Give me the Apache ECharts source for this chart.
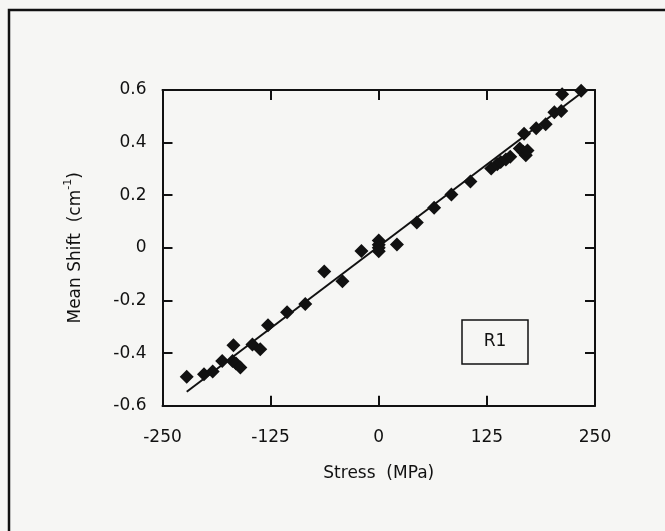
<!DOCTYPE html>
<html>
<head>
<meta charset="utf-8">
<script src="https://cdn.jsdelivr.net/npm/echarts@6/dist/echarts.min.js"></script>
<style>
  html, body { margin: 0; padding: 0; background: #f6f6f4; }
  #chart { width: 665px; height: 531px; }
</style>
</head>
<body>
<div id="chart"></div>
<script>
// Measured points: applied stress (MPa) and mean Raman shift (cm^-1)
const stress = [-222, -202, -192, -181, -168, -169, -165, -160, -146, -137,
  -128, -106, -85, -63, -42, -20, 0, 0, 0, 0,
  21, 44, 64, 84, 106, 130, 137, 141, 147, 152,
  163, 167, 168, 170, 172, 182, 193, 203, 211, 212, 234];
const meanShift = [-0.49, -0.48, -0.47, -0.43, -0.37, -0.43, -0.44, -0.455, -0.367, -0.385,
  -0.294, -0.245, -0.213, -0.09, -0.127, -0.012, 0.028, 0.012, 0, -0.013,
  0.013, 0.096, 0.152, 0.203, 0.252, 0.302, 0.318, 0.326, 0.336, 0.346,
  0.378, 0.365, 0.434, 0.352, 0.37, 0.455, 0.47, 0.515, 0.52, 0.584, 0.597];

// Least-squares line end points
const fitStress = [-222, 238];
const fitShift = [-0.547, 0.598];

const xTicks = [-250, -125, 0, 125, 250];
const yTicks = [-0.6, -0.4, -0.2, 0, 0.2, 0.4, 0.6];
const sampleLabel = 'R1';

const FONT = 'DejaVu Sans';
const INK = '#111';

const points = stress.map((s, i) => [s, meanShift[i]]);
const fit = fitStress.map((s, i) => [s, fitShift[i]]);

function yLabel(v) {
  const r = Math.round(v * 10) / 10;
  if (r === 0) return '0';
  return (r < 0 ? '-' : '') + Math.abs(r).toFixed(1);
}

const chart = echarts.init(document.getElementById('chart'), null, { renderer: 'canvas' });

const tickStyle = { show: true, inside: true, length: 10, lineStyle: { color: INK, width: 2 } };
const lineStyle = { show: true, onZero: false, lineStyle: { color: INK, width: 2 } };

chart.setOption({
  backgroundColor: '#f6f6f4',
  animation: false,
  grid: { left: 162.5, right: 70, top: 90, bottom: 125.3 },
  xAxis: [{
    type: 'value', min: -250, max: 250, interval: 125,
    axisLine: lineStyle, axisTick: tickStyle, splitLine: { show: false },
    axisLabel: { color: INK, fontFamily: FONT, fontSize: 17, margin: 23,
      formatter: v => xTicks.includes(v) ? String(v) : '' },
    name: 'Stress  (MPa)', nameLocation: 'middle', nameGap: 59,
    nameTextStyle: { color: INK, fontFamily: FONT, fontSize: 17 }
  }, {
    type: 'value', position: 'top', min: -250, max: 250, interval: 125,
    axisLine: lineStyle, axisTick: tickStyle, axisLabel: { show: false }, splitLine: { show: false }
  }],
  yAxis: [{
    type: 'value', min: -0.6, max: 0.6, interval: 0.2,
    axisLine: lineStyle, axisTick: tickStyle, splitLine: { show: false },
    axisLabel: { color: INK, fontFamily: FONT, fontSize: 17, margin: 16,
      formatter: v => yTicks.some(t => Math.abs(t - v) < 1e-9) ? yLabel(v) : '' },
    name: '{n|Mean Shift  (cm}{s|-1}{n|)}', nameLocation: 'middle', nameGap: 78, nameRotate: 90,
    nameTextStyle: {
      color: INK, fontFamily: FONT, fontSize: 17,
      rich: {
        n: { fontFamily: FONT, fontSize: 17, color: INK, lineHeight: 22, verticalAlign: 'bottom' },
        s: { fontFamily: FONT, fontSize: 11, color: INK, lineHeight: 22, verticalAlign: 'top' }
      }
    }
  }, {
    type: 'value', position: 'right', min: -0.6, max: 0.6, interval: 0.2,
    axisLine: lineStyle, axisTick: tickStyle, axisLabel: { show: false }, splitLine: { show: false }
  }],
  graphic: [{
    type: 'rect', silent: true, z: 0,
    shape: { x: 9, y: 10, width: 700, height: 600 },
    style: { fill: 'none', stroke: INK, lineWidth: 2.5 }
  }, {
    type: 'rect', silent: true, z: 10,
    shape: { x: 462, y: 320, width: 66, height: 44 },
    style: { fill: '#f6f6f4', stroke: INK, lineWidth: 1.5 }
  }, {
    type: 'text', silent: true, z: 11,
    x: 495, y: 342,
    style: { text: sampleLabel, fontFamily: FONT, fontSize: 17, fill: INK, align: 'center', verticalAlign: 'middle' }
  }],
  series: [{
    type: 'line', data: fit, xAxisIndex: 0, yAxisIndex: 0,
    showSymbol: false, symbol: 'none', silent: true,
    lineStyle: { color: INK, width: 2 }, z: 2
  }, {
    type: 'scatter', data: points, xAxisIndex: 0, yAxisIndex: 0,
    symbol: 'diamond', symbolSize: 14,
    itemStyle: { color: INK, opacity: 1 }, z: 3
  }]
});
</script>
</body>
</html>
